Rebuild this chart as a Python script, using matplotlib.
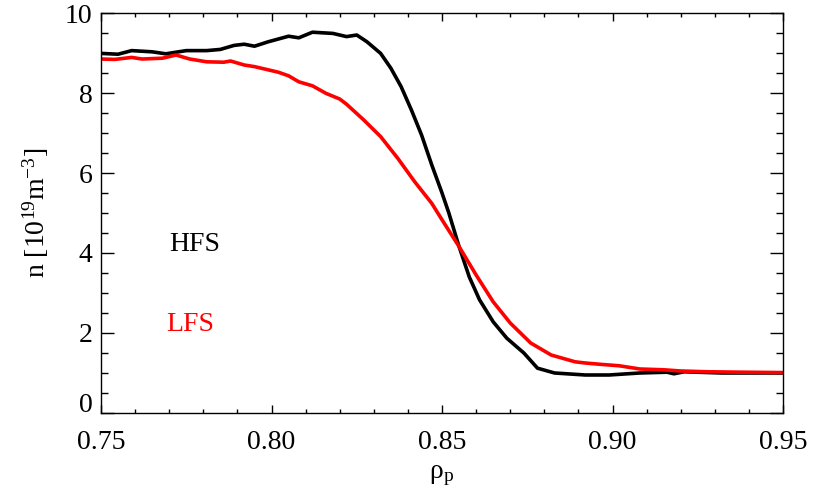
import matplotlib
matplotlib.use("Agg")
import matplotlib.pyplot as plt
from matplotlib.transforms import ScaledTranslation

# HFS profile (black)
rho_hfs = [0.750, 0.755, 0.759, 0.765, 0.769, 0.775, 0.781, 0.785, 0.789, 0.792,
           0.795, 0.799, 0.805, 0.808, 0.812, 0.818, 0.822, 0.825, 0.828, 0.832,
           0.835, 0.838, 0.841, 0.844, 0.847, 0.850, 0.852, 0.855, 0.858, 0.861,
           0.865, 0.869, 0.874, 0.878, 0.883, 0.892, 0.899, 0.908, 0.916, 0.918,
           0.921, 0.932, 0.950]
n_hfs = [8.99, 8.97, 9.06, 9.03, 8.98, 9.06, 9.06, 9.09, 9.19, 9.22,
         9.17, 9.28, 9.42, 9.38, 9.52, 9.49, 9.41, 9.45, 9.28, 8.99,
         8.62, 8.16, 7.58, 6.95, 6.20, 5.50, 5.00, 4.16, 3.40, 2.83,
         2.28, 1.87, 1.50, 1.12, 1.00, 0.95, 0.95, 1.00, 1.02, 0.98,
         1.03, 1.00, 1.00]

# LFS profile (red)
rho_lfs = [0.750, 0.754, 0.759, 0.762, 0.768, 0.772, 0.776, 0.781, 0.786, 0.788,
           0.792, 0.795, 0.799, 0.802, 0.805, 0.808, 0.812, 0.816, 0.820, 0.822,
           0.827, 0.832, 0.837, 0.842, 0.847, 0.850, 0.855, 0.860, 0.865, 0.870,
           0.876, 0.882, 0.889, 0.892, 0.896, 0.902, 0.908, 0.915, 0.920, 0.928,
           0.938, 0.950]
n_lfs = [8.85, 8.84, 8.89, 8.85, 8.87, 8.95, 8.85, 8.78, 8.77, 8.80,
         8.70, 8.66, 8.58, 8.52, 8.43, 8.28, 8.18, 7.99, 7.85, 7.72,
         7.33, 6.91, 6.37, 5.78, 5.24, 4.83, 4.16, 3.45, 2.78, 2.25,
         1.75, 1.45, 1.28, 1.25, 1.22, 1.18, 1.10, 1.08, 1.05, 1.03,
         1.02, 1.01]

xticks = [0.75, 0.80, 0.85, 0.90, 0.95]
xticklabels = ["0.75", "0.80", "0.85", "0.90", "0.95"]
yticks = [0, 2, 4, 6, 8, 10]

plt.rcParams['font.family'] = ['Liberation Serif', 'DejaVu Serif']
plt.rcParams['mathtext.fontset'] = 'custom'
plt.rcParams['mathtext.rm'] = 'Liberation Serif'
plt.rcParams['mathtext.it'] = 'Liberation Serif:italic'
plt.rcParams['font.size'] = 20

fig = plt.figure(figsize=(8.2, 4.93), dpi=100)
ax = fig.add_axes([0.1232, 0.1623, 0.8317, 0.8113])

ax.plot(rho_hfs, n_hfs, color='black', lw=2.6)
ax.plot(rho_lfs, n_lfs, color='red', lw=2.6)

ax.text(0.770, 4.2, "HFS", color='black', ha='left', va='center', fontsize=20)
ax.text(0.769, 2.2, "LFS", color='red', ha='left', va='center', fontsize=20)

ax.set_xlim(0.75, 0.95)
ax.set_ylim(0, 10)
ax.set_xticks(xticks)
ax.set_xticklabels(xticklabels)
ax.set_xticks([0.75 + 0.01 * i for i in range(21)], minor=True)
ax.set_yticks(yticks)
ax.set_yticks([0.5 * i for i in range(21)], minor=True)

ax.tick_params(which='both', direction='in', top=True, right=True, width=1)
ax.tick_params(axis='x', which='major', length=5.8, pad=12)
ax.tick_params(axis='x', which='minor', length=2.9)
ax.tick_params(axis='y', which='major', length=9.4, pad=6)
ax.tick_params(axis='y', which='minor', length=4.7)
for s in ax.spines.values():
    s.set_linewidth(1)

ax.set_xlabel("ρ$_\\mathrm{p}$", labelpad=6)
ax.set_ylabel("n [10$^{19}$m$^{-3}$]", labelpad=10)

fig.canvas.draw()
lab0 = ax.get_yticklabels()[0]
lab0.set_transform(lab0.get_transform() + ScaledTranslation(0, 0.1, fig.dpi_scale_trans))

fig.savefig("out.png", dpi=100)
